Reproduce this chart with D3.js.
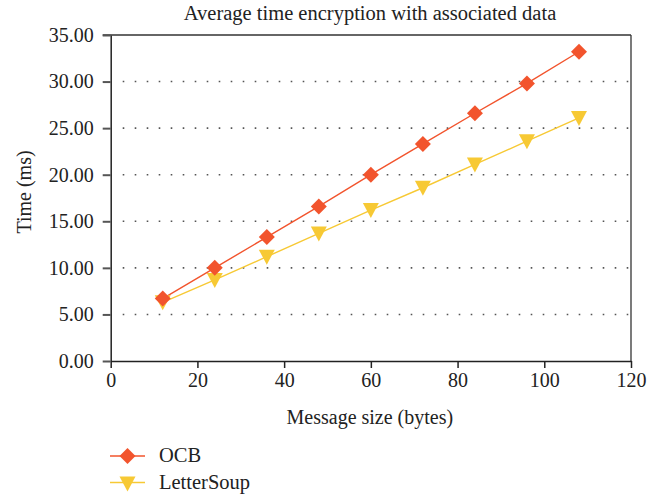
<!DOCTYPE html>
<html>
<head>
<meta charset="utf-8">
<script src="https://cdn.jsdelivr.net/npm/d3@7"></script>
<style>
  body { margin: 0; background: #fff; }
  svg text { font-family: "Liberation Serif", "DejaVu Serif", serif; fill: #222; }
</style>
</head>
<body>
<svg id="chart" width="653" height="496"></svg>
<script>
// Message sizes (bytes) and average encryption time (ms)
const messageSizes = [12, 24, 36, 48, 60, 72, 84, 96, 108];
const ocbTimes = [6.7, 10.0, 13.3, 16.6, 20.0, 23.3, 26.6, 29.8, 33.2];
const letterSoupTimes = [6.3, 8.7, 11.2, 13.7, 16.2, 18.6, 21.1, 23.6, 26.1];
const xTicks = [0, 20, 40, 60, 80, 100, 120];
const yTicks = [0, 5, 10, 15, 20, 25, 30, 35];
const seriesNames = ["OCB", "LetterSoup"];

const OCB_COLOR = "#f2542d";
const LS_COLOR = "#f7c934";
const FONT = "'Liberation Serif', 'DejaVu Serif', serif";

const svg = d3.select("#chart");
const plotLeft = 110.7, plotRight = 631, plotTop = 35, plotBottom = 361;

const x = d3.scaleLinear().domain([0, 120]).range([plotLeft, plotRight]);
const y = d3.scaleLinear().domain([0, 35]).range([plotBottom, plotTop]);

// Title
svg.append("text")
  .attr("x", 370).attr("y", 20)
  .attr("text-anchor", "middle")
  .style("font-size", "20.5px")
  .text("Average time encryption with associated data");

// Dotted horizontal grid
svg.append("g").selectAll("line")
  .data(yTicks.filter(t => t > 0 && t < 35))
  .join("line")
  .attr("x1", plotLeft + 12).attr("x2", plotRight - 2)
  .attr("y1", d => y(d)).attr("y2", d => y(d))
  .attr("stroke", "#555")
  .attr("stroke-width", 1.6)
  .attr("stroke-dasharray", "1.6,10.4");

// Frame: top and right edges
svg.append("line").attr("x1", plotLeft - 8).attr("x2", plotRight).attr("y1", plotTop).attr("y2", plotTop)
  .attr("stroke", "#333").attr("stroke-width", 1.4);
svg.append("line").attr("x1", plotRight).attr("x2", plotRight).attr("y1", plotTop).attr("y2", plotBottom)
  .attr("stroke", "#333").attr("stroke-width", 1.3);

// Axes
const xAxis = d3.axisBottom(x).tickValues(xTicks).tickSize(7).tickSizeOuter(0).tickPadding(5)
  .tickFormat(d3.format("d"));
const gx = svg.append("g").attr("transform", `translate(0,${plotBottom})`).call(xAxis)
  .attr("font-family", FONT);
gx.select(".domain").attr("stroke", "#222").attr("stroke-width", 1.5);
gx.selectAll(".tick line").attr("stroke", "#222").attr("stroke-width", 1.5);
gx.selectAll("text").style("font-size", "20px").attr("fill", "#222");

const yAxis = d3.axisLeft(y).tickValues(yTicks).tickSize(8).tickSizeOuter(0).tickPadding(9)
  .tickFormat(d3.format(".2f"));
const gy = svg.append("g").attr("transform", `translate(${plotLeft},0)`).call(yAxis)
  .attr("font-family", FONT);
gy.select(".domain").attr("stroke", "#222").attr("stroke-width", 1.5);
gy.selectAll(".tick line").attr("stroke", "#555").attr("stroke-width", 2);
gy.selectAll("text").style("font-size", "20px").attr("fill", "#222");

// Axis titles
svg.append("text")
  .attr("x", (plotLeft + plotRight) / 2 - 1).attr("y", 424)
  .attr("text-anchor", "middle")
  .style("font-size", "20px")
  .text("Message size (bytes)");
svg.append("text")
  .attr("transform", `translate(31,192) rotate(-90)`)
  .attr("text-anchor", "middle")
  .style("font-size", "20px")
  .text("Time (ms)");

const line = d3.line().x(d => x(d[0])).y(d => y(d[1]));
const ocbData = messageSizes.map((s, i) => [s, ocbTimes[i]]);
const lsData = messageSizes.map((s, i) => [s, letterSoupTimes[i]]);

// Series lines
svg.append("path").datum(lsData).attr("d", line)
  .attr("fill", "none").attr("stroke", LS_COLOR).attr("stroke-width", 1.4);
svg.append("path").datum(ocbData).attr("d", line)
  .attr("fill", "none").attr("stroke", OCB_COLOR).attr("stroke-width", 1.4);

// Markers
const diamond = d3.symbol().type(d3.symbolSquare).size(128);
const triDown = "M-8,-7L8,-7L0,8Z";

svg.append("g").selectAll("path").data(lsData).join("path")
  .attr("d", triDown)
  .attr("transform", d => `translate(${x(d[0])},${y(d[1])})`)
  .attr("fill", LS_COLOR);
svg.append("g").selectAll("path").data(ocbData).join("path")
  .attr("d", diamond)
  .attr("transform", d => `translate(${x(d[0])},${y(d[1])}) rotate(45)`)
  .attr("fill", OCB_COLOR);

// Legend
const legend = svg.append("g");
const legendRows = [
  { name: seriesNames[0], color: OCB_COLOR, y: 456, marker: "diamond" },
  { name: seriesNames[1], color: LS_COLOR, y: 482.5, marker: "tri" }
];
legendRows.forEach(r => {
  legend.append("line").attr("x1", 110).attr("x2", 145).attr("y1", r.y).attr("y2", r.y)
    .attr("stroke", r.color).attr("stroke-width", 1.4);
  if (r.marker === "diamond") {
    legend.append("path").attr("d", diamond)
      .attr("transform", `translate(127.5,${r.y}) rotate(45)`).attr("fill", r.color);
  } else {
    legend.append("path").attr("d", triDown)
      .attr("transform", `translate(127.5,${r.y + 1})`).attr("fill", r.color);
  }
  legend.append("text").attr("x", 159).attr("y", r.y + 6)
    .style("font-size", "20.5px").text(r.name);
});
</script>
</body>
</html>
